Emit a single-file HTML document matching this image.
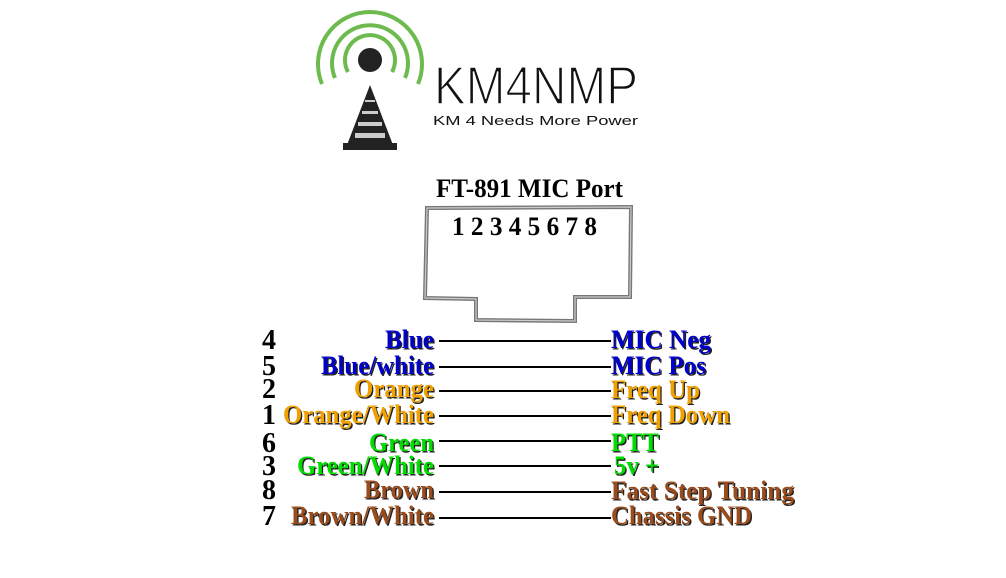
<!DOCTYPE html>
<html><head><meta charset="utf-8"><style>
html,body{margin:0;padding:0;background:#fff;width:1006px;height:578px;overflow:hidden}
svg{display:block}
.t{font-family:"Liberation Serif",serif;font-weight:bold;font-size:26px}
.sh{fill:#222}
</style></head><body>
<svg width="1006" height="578" viewBox="0 0 1006 578" xmlns="http://www.w3.org/2000/svg">
<!-- logo -->
<g fill="none" stroke="#6dbb4f" stroke-linecap="butt">
<path d="M348 72 A25 25 0 1 1 392 72" stroke-width="4"/>
<path d="M335 78 A38 38 0 1 1 405 78" stroke-width="4"/>
<path d="M322 84 A52 52 0 1 1 418 84" stroke-width="4"/>
</g>
<circle cx="370" cy="60" r="12" fill="#222"/>
<polygon points="370,85 347,145 393,145" fill="#222"/>
<rect x="343" y="143" width="54" height="7" fill="#222"/>
<rect x="365" y="100" width="10" height="2" fill="#ccc"/>
<rect x="362" y="111" width="16" height="3" fill="#ccc"/>
<rect x="358" y="122" width="24" height="4" fill="#ccc"/>
<rect x="355" y="133" width="30" height="5" fill="#ccc"/>
<text x="434" y="104" font-family="Liberation Sans,sans-serif" font-size="54" fill="#111" stroke="#fff" stroke-width="1.6" paint-order="normal" textLength="204" lengthAdjust="spacingAndGlyphs">KM4NMP</text>
<text x="433" y="125" font-family="Liberation Sans,sans-serif" font-size="13" fill="#111" textLength="205" lengthAdjust="spacingAndGlyphs">KM 4 Needs More Power</text>
<!-- title -->
<text class="t" x="436" y="197" fill="#000" textLength="187" lengthAdjust="spacingAndGlyphs">FT-891 MIC Port</text>
<!-- connector -->
<path d="M427 208 L631 207 L630 297 L575 297 L575 321 L476 320 L476 299 L425 298 Z" fill="none" stroke="#777" stroke-width="4"/>
<path d="M427 208 L631 207 L630 297 L575 297 L575 321 L476 320 L476 299 L425 298 Z" fill="none" stroke="#ccc" stroke-width="1.2"/>
<text class="t" x="452" y="235" fill="#000" textLength="145" lengthAdjust="spacingAndGlyphs">1 2 3 4 5 6 7 8</text>
<!-- lines -->
<g stroke="#000" stroke-width="2">
<line x1="439" y1="341" x2="611" y2="341"/>
<line x1="439" y1="367" x2="611" y2="367"/>
<line x1="439" y1="391" x2="611" y2="391"/>
<line x1="439" y1="416" x2="611" y2="416"/>
<line x1="439" y1="441" x2="611" y2="441"/>
<line x1="439" y1="466" x2="611" y2="466"/>
<line x1="439" y1="492" x2="611" y2="492"/>
<line x1="439" y1="518" x2="611" y2="518"/>
</g>
<!-- numbers -->
<g class="t" fill="#000" style="font-size:28px">
<text x="262" y="349">4</text><text x="262" y="375">5</text><text x="262" y="398">2</text><text x="262" y="424">1</text>
<text x="262" y="452">6</text><text x="262" y="475">3</text><text x="262" y="499">8</text><text x="262" y="525">7</text>
</g>
<!-- shadows -->
<g class="t sh" transform="translate(1.3,1.3)">
<text x="385" y="348" textLength="49" lengthAdjust="spacingAndGlyphs">Blue</text>
<text x="321" y="374" textLength="113" lengthAdjust="spacingAndGlyphs">Blue/white</text>
<text x="354" y="397" textLength="80" lengthAdjust="spacingAndGlyphs">Orange</text>
<text x="283" y="423" textLength="151" lengthAdjust="spacingAndGlyphs">Orange/White</text>
<text x="369" y="451" textLength="65" lengthAdjust="spacingAndGlyphs">Green</text>
<text x="297" y="474" textLength="137" lengthAdjust="spacingAndGlyphs">Green/White</text>
<text x="364" y="498" textLength="70" lengthAdjust="spacingAndGlyphs">Brown</text>
<text x="291" y="524" textLength="143" lengthAdjust="spacingAndGlyphs">Brown/White</text>
<text x="611" y="348" textLength="100" lengthAdjust="spacingAndGlyphs">MIC Neg</text>
<text x="611" y="374" textLength="95" lengthAdjust="spacingAndGlyphs">MIC Pos</text>
<text x="611" y="398" textLength="89" lengthAdjust="spacingAndGlyphs">Freq Up</text>
<text x="611" y="423" textLength="119" lengthAdjust="spacingAndGlyphs">Freq Down</text>
<text x="611" y="451" textLength="48" lengthAdjust="spacingAndGlyphs">PTT</text>
<text x="614" y="474" textLength="45" lengthAdjust="spacingAndGlyphs">5v +</text>
<text x="611" y="499" textLength="183" lengthAdjust="spacingAndGlyphs">Fast Step Tuning</text>
<text x="611" y="524" textLength="141" lengthAdjust="spacingAndGlyphs">Chassis GND</text>
</g>
<g class="t">
<text x="385" y="348" fill="#0000cc" textLength="49" lengthAdjust="spacingAndGlyphs">Blue</text>
<text x="321" y="374" fill="#0000cc" textLength="113" lengthAdjust="spacingAndGlyphs">Blue/white</text>
<text x="354" y="397" fill="#f0a000" textLength="80" lengthAdjust="spacingAndGlyphs">Orange</text>
<text x="283" y="423" fill="#f0a000" textLength="151" lengthAdjust="spacingAndGlyphs">Orange/White</text>
<text x="369" y="451" fill="#00dd00" textLength="65" lengthAdjust="spacingAndGlyphs">Green</text>
<text x="297" y="474" fill="#00dd00" textLength="137" lengthAdjust="spacingAndGlyphs">Green/White</text>
<text x="364" y="498" fill="#9a4c1c" textLength="70" lengthAdjust="spacingAndGlyphs">Brown</text>
<text x="291" y="524" fill="#9a4c1c" textLength="143" lengthAdjust="spacingAndGlyphs">Brown/White</text>
<text x="611" y="348" fill="#0000cc" textLength="100" lengthAdjust="spacingAndGlyphs">MIC Neg</text>
<text x="611" y="374" fill="#0000cc" textLength="95" lengthAdjust="spacingAndGlyphs">MIC Pos</text>
<text x="611" y="398" fill="#f0a000" textLength="89" lengthAdjust="spacingAndGlyphs">Freq Up</text>
<text x="611" y="423" fill="#f0a000" textLength="119" lengthAdjust="spacingAndGlyphs">Freq Down</text>
<text x="611" y="451" fill="#00dd00" textLength="48" lengthAdjust="spacingAndGlyphs">PTT</text>
<text x="614" y="474" fill="#00dd00" textLength="45" lengthAdjust="spacingAndGlyphs">5v +</text>
<text x="611" y="499" fill="#9a4c1c" textLength="183" lengthAdjust="spacingAndGlyphs">Fast Step Tuning</text>
<text x="611" y="524" fill="#9a4c1c" textLength="141" lengthAdjust="spacingAndGlyphs">Chassis GND</text>
</g>
</svg>
</body></html>
